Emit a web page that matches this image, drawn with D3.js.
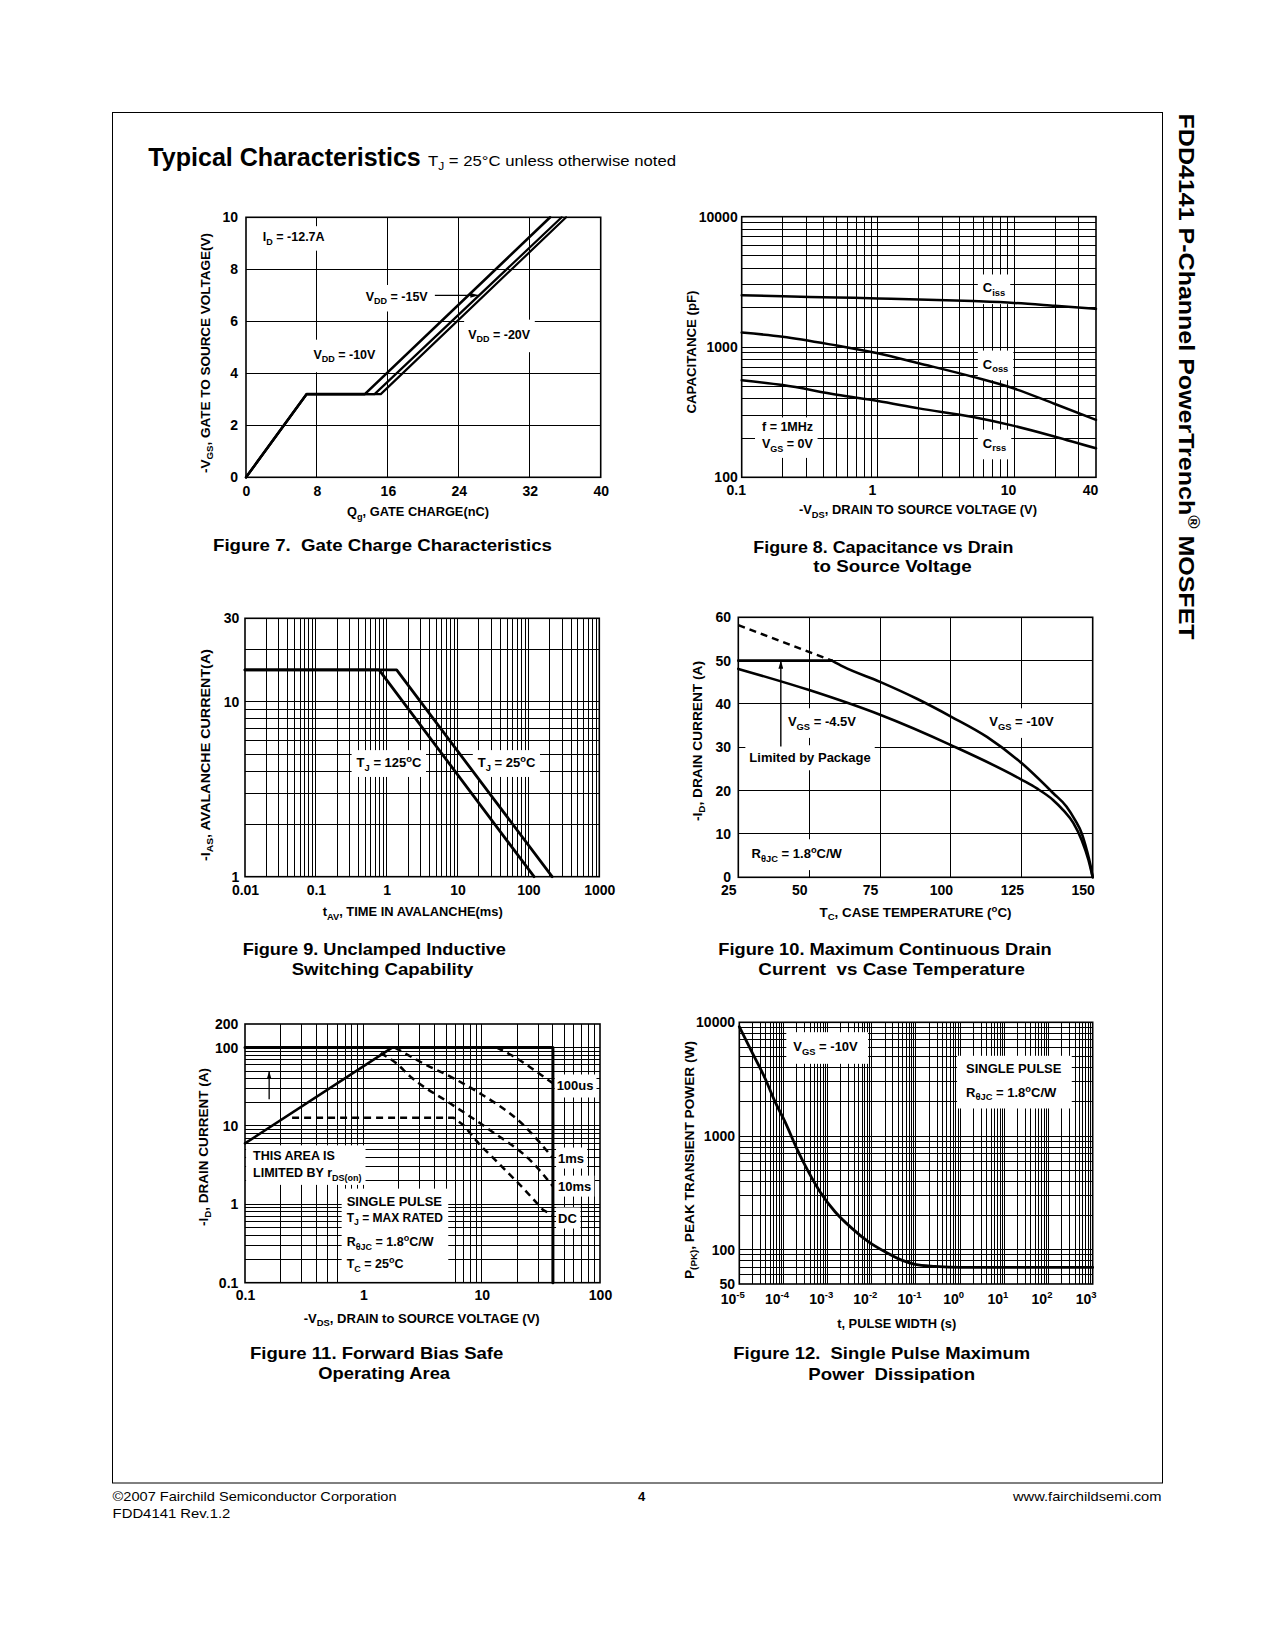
<!DOCTYPE html>
<html><head><meta charset="utf-8">
<script src="https://cdn.jsdelivr.net/npm/d3@7"></script>
<style>
body{margin:0;background:#fff;}
svg{display:block;font-family:"Liberation Sans",Arial,Helvetica,sans-serif;}
text{white-space:pre;}
</style></head><body>
<svg id="page" width="1275" height="1650"></svg>
<script>
// ================= DATA =================
// Figure 7 – gate charge
const f7XTicks=[0,8,16,24,32,40];
const f7YTicks=[0,2,4,6,8,10];
const f7Qg10=[0,6.84,13.4,34.3];
const f7Qg15=[0,6.84,14.5,35.6];
const f7Qg20=[0,6.84,15.2,36.1];
const f7Vgs=[0,3.2,3.2,10];
// Figure 8 – capacitance
const f8XTicks=[0.1,1,10,40];
const f8YTicks=[100,1000,10000];
const f8Vds=[0.1,0.2,0.5,1,2,5,10,20,40];
const f8Ciss=[2500,2450,2400,2360,2320,2250,2180,2070,1960];
const f8Coss=[1290,1200,1025,895,750,590,480,365,276];
const f8Crss=[555,510,430,385,338,290,248,205,167];
// Figure 9 – unclamped inductive switching
const f9XTicks=[0.01,0.1,1,10,100,1000];
const f9YTicks=[1,10,30];
const f9Tav25=[0.01,1.38,216];
const f9Tav125=[0.01,0.78,120];
const f9Ias=[15.2,15.2,1];
// Figure 10 – drain current vs case temperature
const f10XTicks=[25,50,75,100,125,150];
const f10YTicks=[0,10,20,30,40,50,60];
const f10PkgT=[25,58], f10PkgI=[50,50];
const f10DashT=[25,58], f10DashI=[58.2,50];
const f10T10=[58,62,75,88,100,112.7,125,136.1,140.8,143.8,146.1,147.9,149.3,150];
const f10I10=[50,48.6,45.1,41.2,37.1,32.4,26.3,19.4,16.3,13.2,10.2,6.3,2.5,0];
const f10T45=[25,50,75,100,125,130.3,136.1,139.6,143.2,146.1,148.5,150];
const f10I45=[48.1,43.2,37.5,30.5,22.5,20.5,17.8,15.5,12.5,8.6,4,0];
// Figure 11 – safe operating area
const f11XTicks=[0.1,1,10,100];
const f11YTicks=[0.1,1,10,100,200];
const f11RdsV=[0.1,1.75], f11RdsI=[6.0,100];
const f11LimV=[0.1,40,40], f11LimI=[100,100,0.1];
const f11V100us=[13.4,19.8,29.2,40], f11I100us=[100,73,49,35];
const f11V1ms=[1.85,3.2,5.8,9.3,22.5,40], f11I1ms=[100,63,40.5,27,10.3,3.9];
const f11V10ms=[1.4,1.9,2.5,5.4,11.7,27.3,40], f11I10ms=[85,63,42.6,19.5,8.9,3.34,1.7];
const f11Vdc=[0.25,5.8,7.0,9.7,14.3,22.5,33,40], f11Idc=[12.7,12.7,10.3,5.7,3.2,1.6,0.85,0.72];
// Figure 12 – single pulse power
const f12XTicks=[1e-5,1e-4,1e-3,1e-2,1e-1,1,10,100,1000];
const f12YTicks=[50,100,1000,10000];
const f12T=[1e-5,1.91e-5,3.82e-5,6.43e-5,1.08e-4,1.99e-4,3.66e-4,6.7e-4,1.47e-3,3.5e-3,8.3e-3,0.0199,0.0474,0.095,0.27,1,10,100,1000];
const f12P=[9160,5520,3220,2005,1337,780,486,324,216,155,118,96,81,74.5,71.5,70,70,70,70];

// ================= HELPERS =================
const svg=d3.select('#page');
const defs=svg.append('defs');
defs.append('marker').attr('id','arr').attr('viewBox','0 0 10 6').attr('refX',10).attr('refY',3)
  .attr('markerWidth',8).attr('markerHeight',5).attr('markerUnits','userSpaceOnUse').attr('orient','auto')
  .append('path').attr('d','M0,0L10,3L0,6Z').attr('fill','#000');

function richText(t,str,size){
  const parts=str.split(/(_\{[^}]*\}|\^\{[^}]*\})/).filter(s=>s.length);
  let shift=0;
  parts.forEach(p=>{
    let mode='n',txt=p;
    if(p.startsWith('_{')){mode='sub';txt=p.slice(2,-1);}
    else if(p.startsWith('^{')){mode='sup';txt=p.slice(2,-1);}
    const target=mode==='sub'?size*0.28:mode==='sup'?-size*0.4:0;
    const ts=t.append('tspan').text(txt);
    if(target-shift!==0) ts.attr('dy',target-shift);
    if(mode!=='n') ts.attr('font-size',size*0.72);
    shift=target;
  });
}
function addText(parent,x,y,str,o={}){
  const size=o.size||12;
  const t=parent.append('text').attr('x',x).attr('y',y+(o.center===false?0:size*0.35))
    .attr('font-size',size).attr('font-weight',o.weight||'bold')
    .attr('text-anchor',o.anchor||'start').attr('fill','#000');
  if(o.rotate) t.attr('transform',`rotate(${o.rotate},${x},${y})`);
  richText(t,str,size);
  if(o.len) t.attr('textLength',o.len).attr('lengthAdjust','spacingAndGlyphs');
  return t;
}
function logGrid(lo,hi){
  const out=[];
  for(let e=Math.floor(Math.log10(lo));e<=Math.ceil(Math.log10(hi));e++)
    for(let m=1;m<=9;m++){const v=m*Math.pow(10,e); if(v>lo*1.0001&&v<hi*0.9999) out.push(v);}
  return out;
}
function panel(o){
  const g=svg.append('g').attr('transform',`translate(${o.x0},${o.y0})`);
  const x=(o.xlog?d3.scaleLog():d3.scaleLinear()).domain(o.xd).range([0,o.w]);
  const y=(o.ylog?d3.scaleLog():d3.scaleLinear()).domain(o.yd).range([o.h,0]);
  const gGrid=g.append('g'),gBox=g.append('g'),gText=g.append('g'),gFrame=g.append('g'),gCurve=g.append('g');
  gGrid.selectAll('line.v').data(o.xg).join('line').attr('class','v')
    .attr('x1',d=>x(d)).attr('x2',d=>x(d)).attr('y1',0).attr('y2',o.h);
  gGrid.selectAll('line.h').data(o.yg).join('line').attr('class','h')
    .attr('y1',d=>y(d)).attr('y2',d=>y(d)).attr('x1',0).attr('x2',o.w);
  gGrid.selectAll('line').attr('stroke','#000').attr('stroke-width',1).attr('shape-rendering','crispEdges');
  gFrame.append('rect').attr('width',o.w).attr('height',o.h).attr('fill','none').attr('stroke','#000').attr('stroke-width',1.6);
  const gx=g.append('g').attr('transform',`translate(0,${o.h})`)
    .call(d3.axisBottom(x).tickValues(o.xt).tickSize(0).tickPadding(o.xpad).tickFormat(o.xfmt||(d=>String(d))));
  gx.select('.domain').remove();
  gx.attr('font-size',14).attr('font-weight','bold').attr('font-family',null);
  gx.selectAll('text').attr('fill','#000').attr('dx',o.xdx||0);
  const gy=g.append('g')
    .call(d3.axisLeft(y).tickValues(o.yt).tickSize(0).tickPadding(o.ypad).tickFormat(d=>String(d)));
  gy.select('.domain').remove();
  gy.attr('font-size',14).attr('font-weight','bold').attr('font-family',null);
  gy.selectAll('text').attr('fill','#000');
  const P={g,x,y,w:o.w,h:o.h,gBox,gText,gCurve,gx};
  P.lab=(xv,yv,str,opt={})=>{
    const t=addText(gText,x(xv),y(yv),str,Object.assign({size:12.5},opt));
    if(opt.box) P.box([t],opt.pad||[4,4,4,4]);
    return t;
  };
  P.box=(nodes,pad,toBottom)=>{
    let x0=1e9,y0=1e9,x1=-1e9,y1=-1e9;
    nodes.forEach(n=>{const b=n.node().getBBox();x0=Math.min(x0,b.x);y0=Math.min(y0,b.y);x1=Math.max(x1,b.x+b.width);y1=Math.max(y1,b.y+b.height);});
    const [pt,pr,pb,pl]=pad;
    const yb=toBottom?o.h:y1+pb;
    gBox.append('rect').attr('x',x0-pl).attr('y',y0-pt).attr('width',x1-x0+pl+pr).attr('height',yb-(y0-pt)).attr('fill','#fff');
  };
  P.line=(xs,ys,opt={})=>{
    const ln=d3.line().x((d,i)=>x(xs[i])).y((d,i)=>y(ys[i]));
    if(opt.curve) ln.curve(opt.curve);
    return gCurve.append('path').attr('d',ln(xs)).attr('fill','none').attr('stroke','#000')
      .attr('stroke-width',opt.w||2.5).attr('stroke-dasharray',opt.dash||null)
      .attr('stroke-linejoin','round').attr('stroke-linecap',opt.dash?'butt':'round');
  };
  P.arrow=(xa,ya,xb,yb,w)=>{
    gCurve.append('line').attr('x1',x(xa)).attr('y1',y(ya)).attr('x2',x(xb)).attr('y2',y(yb))
      .attr('stroke','#000').attr('stroke-width',w||1.3).attr('marker-end','url(#arr)');
  };
  return P;
}

// ================= PAGE =================
svg.append('rect').attr('x',112.5).attr('y',112.5).attr('width',1050).attr('height',1370.5)
  .attr('fill','none').attr('stroke','#000').attr('stroke-width',1);
addText(svg,148.3,165.5,'Typical Characteristics',{size:25,center:false,len:272.5});
addText(svg,428,166,'T_{J} = 25°C unless otherwise noted',{size:14.5,weight:'normal',center:false,len:248});
addText(svg,0,0,'FDD4141 P-Channel PowerTrench^{®} MOSFET',{size:22,center:false,len:526})
  .attr('x',null).attr('y',null).attr('transform','translate(1179,113.6) rotate(90)');
addText(svg,112.6,1501,'©2007 Fairchild Semiconductor Corporation',{size:13,weight:'normal',center:false,len:284});
addText(svg,112.6,1517.5,'FDD4141 Rev.1.2',{size:13,weight:'normal',center:false,len:117.8});
addText(svg,641.7,1501,'4',{size:13,anchor:'middle',center:false});
addText(svg,1161.5,1501,'www.fairchildsemi.com',{size:13,weight:'normal',anchor:'end',center:false,len:148.5});

function caption(cx,cy,str,len){addText(svg,cx,cy+6,str,{size:17,anchor:'middle',center:false,len:len});}
function xTitle(cx,cy,str,len){addText(svg,cx,cy,str,{size:12.5,anchor:'middle',len:len});}
function yTitle(cx,cy,str,len){addText(svg,cx,cy,str,{size:13,anchor:'middle',rotate:-90,len:len});}

// ---------- Figure 7 ----------
{
  const P=panel({x0:246,y0:217.3,w:354.7,h:260,xd:[0,40],yd:[0,10],xg:[8,16,24,32],yg:[2,4,6,8],
    xt:f7XTicks,yt:f7YTicks,xpad:9,ypad:8});
  P.lab(1.9,9.25,'I_{D} = -12.7A',{box:true,pad:[4,4,4,4]});
  P.lab(13.5,6.95,'V_{DD} = -15V',{box:true,pad:[5,4,5,4]});
  P.lab(25.05,5.5,'V_{DD} = -20V',{box:true,pad:[8,4,8,4]});
  P.lab(7.6,4.73,'V_{DD} = -10V',{box:true,pad:[8,4,8,4]});
  P.arrow(21.3,7.0,26.2,7.0,1.2);
  P.line(f7Qg20,f7Vgs,{w:2.2});
  P.line(f7Qg15,f7Vgs,{w:2.2});
  P.line(f7Qg10,f7Vgs,{w:2.6});
  xTitle(418,512,'Q_{g}, GATE CHARGE(nC)',142);
  yTitle(205,353,'-V_{GS}, GATE TO SOURCE VOLTAGE(V)',240);
  caption(382.5,545,'Figure 7.  Gate Charge Characteristics',339);
}
// ---------- Figure 8 ----------
{
  const P=panel({x0:741.7,y0:216.7,w:354.3,h:260.6,xlog:true,ylog:true,xd:[0.1,40],yd:[100,10000],
    xg:logGrid(0.1,40),yg:logGrid(100,10000),xt:f8XTicks,yt:f8YTicks,xpad:8.2,ypad:4,xdx:-6});
  P.lab(5.9,2840,'C_{iss}',{size:13,box:true,pad:[6,5,6,5]});
  P.lab(5.9,740,'C_{oss}',{size:13,box:true,pad:[6,5,6,5]});
  P.lab(5.9,183,'C_{rss}',{size:13,box:true,pad:[6,5,6,5]});
  const t1=P.lab(0.141,243,'f = 1MHz');
  const t2=P.lab(0.141,180,'V_{GS} = 0V');
  P.box([t1,t2],[3,4,4,7]);
  P.line(f8Vds,f8Ciss,{curve:d3.curveMonotoneX});
  P.line(f8Vds,f8Coss,{curve:d3.curveMonotoneX});
  P.line(f8Vds,f8Crss,{curve:d3.curveMonotoneX});
  xTitle(918,510,'-V_{DS}, DRAIN TO SOURCE VOLTAGE (V)',238);
  yTitle(691.7,352,'CAPACITANCE (pF)',123);
  caption(883.3,546.7,'Figure 8. Capacitance vs Drain',260);
  caption(892.5,565.7,'to Source Voltage',158.4);
}
// ---------- Figure 9 ----------
{
  const P=panel({x0:245,y0:618.3,w:354.3,h:258.4,xlog:true,ylog:true,xd:[0.01,1000],yd:[1,30],
    xg:logGrid(0.01,1000),yg:logGrid(1,30),xt:f9XTicks,yt:f9YTicks,xpad:8.8,ypad:5.7});
  P.lab(0.376,4.48,'T_{J} = 125^{o}C',{size:13,box:true,pad:[4,4,4,5]});
  P.lab(19.3,4.48,'T_{J} = 25^{o}C',{size:13,box:true,pad:[4,4,4,5]});
  P.line(f9Tav125,f9Ias,{w:2.8});
  P.line(f9Tav25,f9Ias,{w:2.8});
  xTitle(412.7,912,'t_{AV}, TIME IN AVALANCHE(ms)',180);
  yTitle(205,755,'-I_{AS}, AVALANCHE CURRENT(A)',212);
  caption(374.3,949,'Figure 9. Unclamped Inductive',263.3);
  caption(382.5,969,'Switching Capability',181.6);
}
// ---------- Figure 10 ----------
{
  const P=panel({x0:738.3,y0:617.3,w:354.4,h:260,xd:[25,150],yd:[0,60],xg:[50,75,100,125],yg:[10,20,30,40,50],
    xt:f10XTicks,yt:f10YTicks,xpad:8.2,ypad:7.3,xdx:-10});
  P.lab(42.5,35.9,'V_{GS} = -4.5V',{size:13,box:true,pad:[6,4,6,4]});
  P.lab(113.5,35.9,'V_{GS} = -10V',{size:13,box:true,pad:[6,4,6,4]});
  P.lab(28.9,27.6,'Limited by Package',{size:13,box:true,pad:[5,4,5,4]});
  P.lab(29.7,5.4,'R_{θJC} = 1.8^{o}C/W',{size:13,box:true,pad:[6,4,6,4]});
  P.arrow(40,30.2,40,50,1.4);
  P.line(f10DashT,f10DashI,{dash:'7,5',w:2.5});
  P.line(f10PkgT,f10PkgI,{w:2.6});
  P.line(f10T10,f10I10,{curve:d3.curveMonotoneX,w:2.6});
  P.line(f10T45,f10I45,{curve:d3.curveMonotoneX,w:2.6});
  xTitle(915.5,912.3,'T_{C}, CASE TEMPERATURE (^{o}C)',192);
  yTitle(697,741,'-I_{D}, DRAIN CURRENT (A)',160);
  caption(885,949.3,'Figure 10. Maximum Continuous Drain',333.4);
  caption(891.7,969.3,'Current  vs Case Temperature',266.7);
}
// ---------- Figure 11 ----------
{
  const P=panel({x0:245,y0:1024,w:355,h:258.7,xlog:true,ylog:true,xd:[0.1,100],yd:[0.1,200],
    xg:logGrid(0.1,100),yg:logGrid(0.1,200),xt:f11XTicks,yt:f11YTicks,xpad:7.8,ypad:6.7});
  P.lab(43,32.4,'100us',{size:13,box:true,pad:[4,3,4,2]});
  P.lab(44.2,3.9,'1ms',{size:13,box:true,pad:[3,3,3,2]});
  P.lab(44.2,1.71,'10ms',{size:13,box:true,pad:[3,3,3,2]});
  P.lab(44.2,0.67,'DC',{size:13,box:true,pad:[3,3,3,2]});
  const a1=P.lab(0.117,4.14,'THIS AREA IS',{size:12.5});
  const a2=P.lab(0.117,2.51,'LIMITED BY r_{DS(on)}',{size:12.5});
  P.box([a1,a2],[4,4,2,7]);
  const b1=P.lab(0.723,1.10,'SINGLE PULSE',{size:13});
  const b2=P.lab(0.723,0.682,'T_{J} = MAX RATED',{size:12});
  const b3=P.lab(0.723,0.333,'R_{θJC} = 1.8^{o}C/W',{size:12.5});
  const b4=P.lab(0.723,0.173,'T_{C} = 25^{o}C',{size:12.5});
  P.box([b1,b2,b3,b4],[5,5,0,5],true);
  P.arrow(0.16,22,0.16,50,1.3);
  P.line(f11RdsV,f11RdsI,{w:2.6});
  P.line(f11LimV,f11LimI,{w:3});
  P.line(f11V100us,f11I100us,{curve:d3.curveMonotoneX,dash:'7,5'});
  P.line(f11V1ms,f11I1ms,{curve:d3.curveMonotoneX,dash:'7,5'});
  P.line(f11V10ms,f11I10ms,{curve:d3.curveMonotoneX,dash:'7,5'});
  P.line(f11Vdc,f11Idc,{dash:'7,5'});
  xTitle(421.7,1318.3,'-V_{DS}, DRAIN to SOURCE VOLTAGE (V)',236);
  yTitle(203.3,1147,'-I_{D}, DRAIN CURRENT (A)',158);
  caption(376.7,1353.3,'Figure 11. Forward Bias Safe',253.3);
  caption(384.2,1373.3,'Operating Area',131.7);
}
// ---------- Figure 12 ----------
{
  const P=panel({x0:739.3,y0:1022.3,w:353.4,h:261.7,xlog:true,ylog:true,xd:[1e-5,1e3],yd:[50,10000],
    xg:logGrid(1e-5,1e3),yg:logGrid(50,10000),xt:f12XTicks,yt:f12YTicks,xpad:9.8,ypad:4.3,xdx:-7,
    xfmt:()=>''});
  P.gx.selectAll('.tick text').each(function(d){
    const t=d3.select(this);
    t.append('tspan').text('10');
    t.append('tspan').text(String(Math.round(Math.log10(d)))).attr('font-size',9.5).attr('dy',-6);
  });
  P.lab(1.67e-4,6110,'V_{GS} = -10V',{size:13,box:true,pad:[7,10,7,7]});
  const s1=P.lab(1.36,3945,'SINGLE PULSE',{size:13});
  const s2=P.lab(1.36,2425,'R_{θJC} = 1.8^{o}C/W',{size:13});
  P.box([s1,s2],[5,10,6,9]);
  P.line(f12T,f12P,{curve:d3.curveMonotoneX,w:2.8});
  xTitle(896.7,1324,'t, PULSE WIDTH (s)',119);
  yTitle(689,1160,'P_{(PK)}, PEAK TRANSIENT POWER (W)',238);
  caption(881.7,1353.3,'Figure 12.  Single Pulse Maximum',296.7);
  caption(891.7,1374,'Power  Dissipation',166.7);
}
</script>
</body></html>
